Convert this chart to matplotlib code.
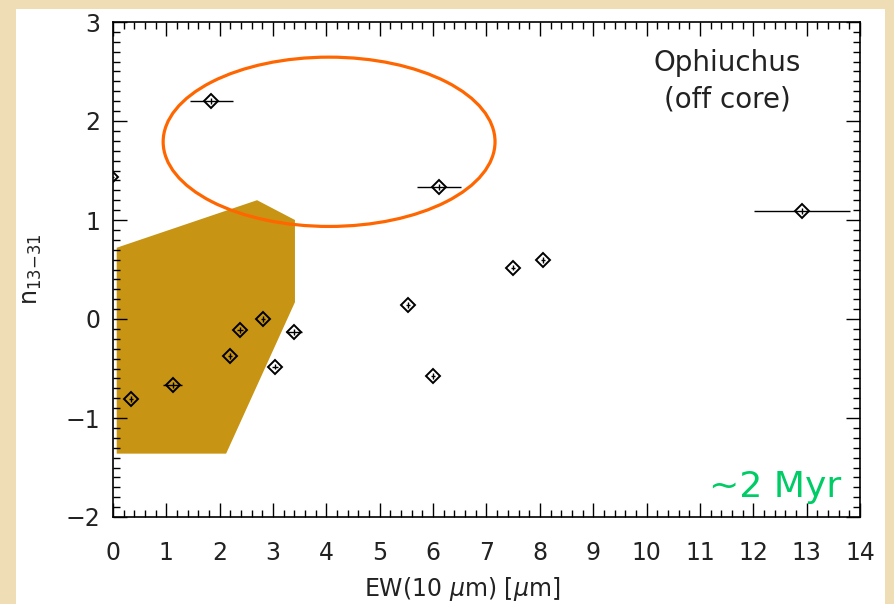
import matplotlib
matplotlib.use("Agg")
import matplotlib.pyplot as plt
from matplotlib.patches import Ellipse, Polygon, Rectangle
from matplotlib.ticker import MultipleLocator

# data
ew = [-0.03, 1.84, 6.11, 12.91, 7.50, 8.06, 5.53, 6.00, 0.34, 1.12, 2.19, 2.38, 2.81, 3.04, 3.40]
n1331 = [1.43, 2.20, 1.33, 1.09, 0.52, 0.60, 0.14, -0.58, -0.81, -0.67, -0.37, -0.11, 0.00, -0.48, -0.13]
ew_err = [0.05, 0.40, 0.42, 0.90, 0.04, 0.04, 0.04, 0.04, 0.04, 0.18, 0.04, 0.06, 0.04, 0.06, 0.15]
n_err = [0.03] * len(ew)

region_x = [0.07, 2.70, 3.41, 3.41, 2.12, 0.07]
region_y = [0.72, 1.20, 1.00, 0.17, -1.36, -1.36]

ell_center = (4.05, 1.79)
ell_w, ell_h = 6.22, 1.71

fig = plt.figure(figsize=(8.95, 6.04), dpi=100)
fig.patch.set_facecolor('#EEDDB5')
fig.patches.append(Rectangle((16 / 895, 0), (885 - 16) / 895, (604 - 9) / 604,
                             transform=fig.transFigure, facecolor='white',
                             edgecolor='none', zorder=-5))

ax = fig.add_axes([113 / 895, 1 - 517 / 604, (860 - 113) / 895, (517 - 22) / 604])
ax.set_facecolor('white')
ax.set_zorder(2)

ax.add_patch(Polygon(list(zip(region_x, region_y)), closed=True,
                     facecolor='#C79414', edgecolor='none', zorder=1))

ax.errorbar(ew, n1331, xerr=ew_err, yerr=n_err, fmt='D', ms=7.5, mfc='none',
            mec='black', mew=1.4, ecolor='black', elinewidth=1.0, capsize=0,
            zorder=3)

ax.add_patch(Ellipse(ell_center, ell_w, ell_h, facecolor='none',
                     edgecolor='#FF6600', lw=2.3, zorder=4))

ax.set_xlim(0, 14)
ax.set_ylim(-2, 3)
ax.xaxis.set_major_locator(MultipleLocator(1))
ax.xaxis.set_minor_locator(MultipleLocator(0.2))
ax.yaxis.set_major_locator(MultipleLocator(1))
ax.yaxis.set_minor_locator(MultipleLocator(0.1))
ax.tick_params(which='both', direction='in', top=True, right=True, color='black')
ax.tick_params(which='major', length=10, width=1.0, labelsize=17, labelcolor='#222222')
ax.tick_params(axis='x', which='major', pad=17)
ax.tick_params(axis='y', which='major', pad=9)
ax.tick_params(which='minor', length=5, width=1.0)
for s in ax.spines.values():
    s.set_linewidth(1.2)

ax.set_xlabel(r'EW(10 $\mu$m) [$\mu$m]', fontsize=17, color='#222222')
ax.xaxis.set_label_coords(0.467, -0.118)
ax.set_ylabel(r'n$_{13{-}31}$', fontsize=17, labelpad=16, color='#222222')

ax.text(0.822, 0.88, 'Ophiuchus\n(off core)', transform=ax.transAxes,
        ha='center', va='center', fontsize=20, linespacing=1.4, color='#222222')
ax.text(0.975, 0.027, '~2 Myr', transform=ax.transAxes, ha='right',
        va='bottom', fontsize=26, color='#00CC66')

fig.savefig('out.png', dpi=100, facecolor=fig.get_facecolor())
